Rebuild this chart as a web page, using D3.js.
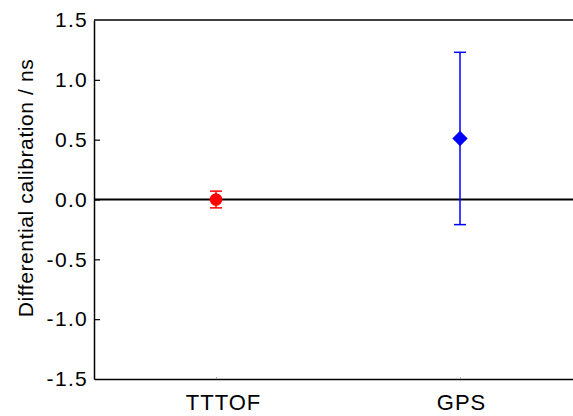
<!DOCTYPE html>
<html>
<head>
<meta charset="utf-8">
<script src="https://cdn.jsdelivr.net/npm/d3@7"></script>
<style>
  body { margin: 0; background: #fff; }
  svg { display: block; font-family: "Liberation Sans", Arial, sans-serif; }
</style>
</head>
<body>
<svg id="chart" width="573" height="416"></svg>
<script>
const categories = ['TTTOF', 'GPS'];
const values = [0, 0.51];
const errors = [0.07, 0.72];
const colors = ['#ff0000', '#0000ff'];
const symbols = ['circle', 'diamond'];
const labelShift = [7, 1];
const yTicks = [-1.5, -1.0, -0.5, 0.0, 0.5, 1.0, 1.5];

const svg = d3.select('#chart');
const margin = { left: 94, top: 20, right: -9, bottom: 37 };
const width = 573 - margin.left - margin.right;
const height = 416 - margin.top - margin.bottom;

const x = d3.scalePoint().domain(categories).range([0, width]).padding(0.5);
const y = d3.scaleLinear().domain([-1.5, 1.5]).range([height, 0]);

const g = svg.append('g').attr('transform', `translate(${margin.left},${margin.top})`);

// top frame line
g.append('line').attr('x1', 0).attr('x2', width).attr('y1', 0).attr('y2', 0)
  .attr('stroke', '#000').attr('stroke-width', 1.5);

// y axis, ticks point inward
const yAxis = g.append('g')
  .call(d3.axisLeft(y).tickValues(yTicks).tickSizeInner(-6).tickSizeOuter(0).tickPadding(6));
yAxis.select('.domain').attr('stroke-width', 1.5);
yAxis.selectAll('.tick line').attr('stroke-width', 1.2);
yAxis.selectAll('text').attr('font-size', 21).attr('letter-spacing', 1.3).attr('fill', '#000')
  .text(d => d3.format('.1f')(d).replace('\u2212', '-'));
yAxis.selectAll('.tick').filter(d => d === 1.5 || d === -1.5).select('line').remove();

// x axis
const xAxis = g.append('g').attr('transform', `translate(0,${height})`)
  .call(d3.axisBottom(x).tickSizeInner(-2).tickSizeOuter(0).tickPadding(15));
xAxis.select('.domain').attr('stroke-width', 1.5);
xAxis.selectAll('.tick line').attr('stroke', '#aaa');
xAxis.selectAll('text').attr('font-size', 22).attr('letter-spacing', 1).attr('fill', '#000')
  .attr('dx', (d, i) => labelShift[i]);

// zero line
g.append('line').attr('x1', 0).attr('x2', width).attr('y1', y(0)).attr('y2', y(0))
  .attr('stroke', '#000').attr('stroke-width', 2);

// error bars
const cap = 6;
categories.forEach((c, i) => {
  const cx = x(c);
  const lo = y(values[i] - errors[i]);
  const hi = y(values[i] + errors[i]);
  const eg = g.append('g').attr('stroke', colors[i]).attr('stroke-width', 1.5);
  eg.append('line').attr('x1', cx).attr('x2', cx).attr('y1', lo).attr('y2', hi);
  eg.append('line').attr('x1', cx - cap).attr('x2', cx + cap).attr('y1', lo).attr('y2', lo);
  eg.append('line').attr('x1', cx - cap).attr('x2', cx + cap).attr('y1', hi).attr('y2', hi);
});

// markers
const symType = { circle: d3.symbolCircle, diamond: d3.symbolDiamond2 };
const symSize = { circle: 125, diamond: 150 };
g.selectAll('.marker').data(categories).join('path')
  .attr('class', 'marker')
  .attr('transform', (c, i) => `translate(${x(c)},${y(values[i])})`)
  .attr('d', (c, i) => d3.symbol().type(symType[symbols[i]]).size(symSize[symbols[i]])())
  .attr('fill', (c, i) => colors[i]);

// y label
svg.append('text')
  .attr('transform', 'translate(33,188) rotate(-90)')
  .attr('text-anchor', 'middle')
  .attr('font-size', 21)
  .attr('letter-spacing', 0.6)
  .text('Differential calibration / ns');
</script>
</body>
</html>
